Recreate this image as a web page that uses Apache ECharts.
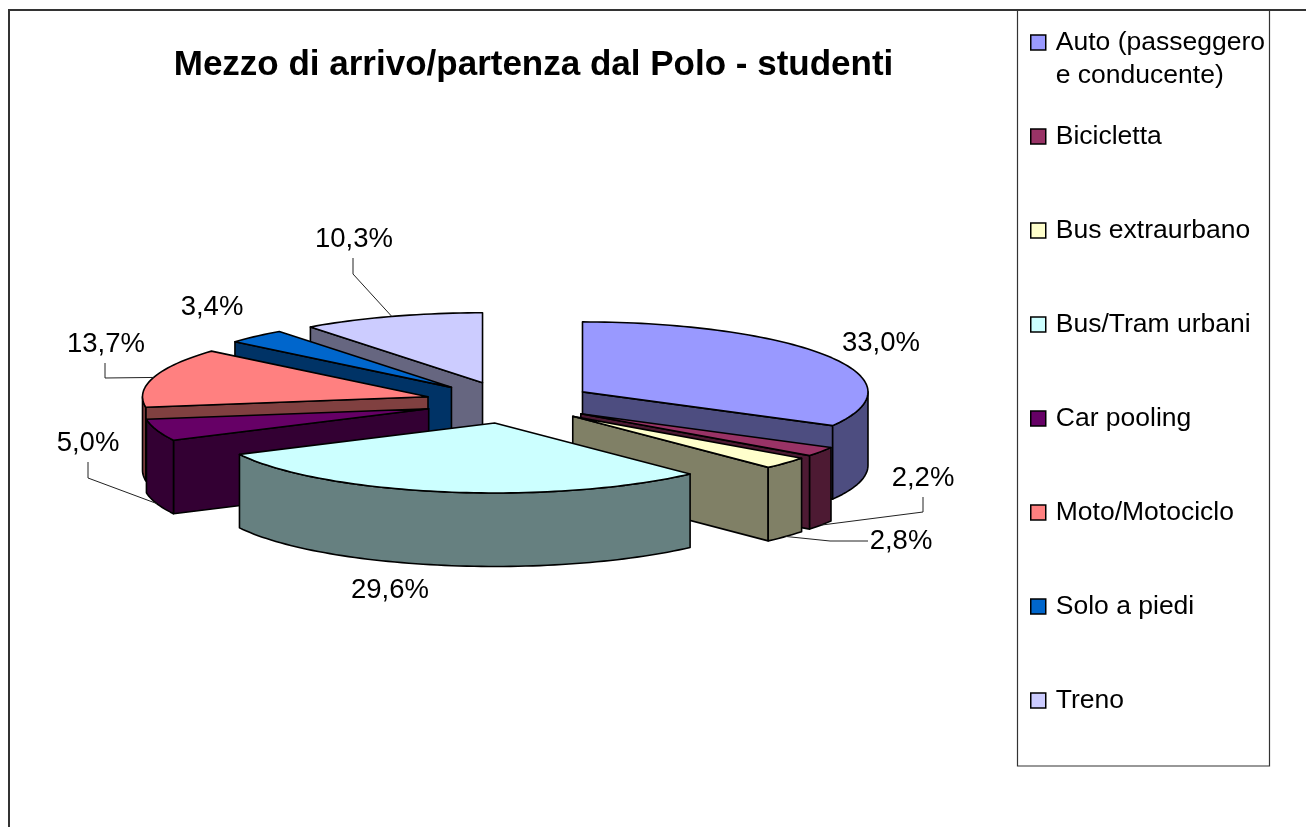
<!DOCTYPE html>
<html>
<head>
<meta charset="utf-8">
<style>html,body{margin:0;padding:0;background:#fff}#c{width:1306px;height:827px}</style>
<script src="https://cdn.jsdelivr.net/npm/echarts@6/dist/echarts.min.js"></script>
</head>
<body>
<div id="c"></div>
<script>
const titleText = 'Mezzo di arrivo/partenza dal Polo - studenti';
const categories = ['Auto (passeggero\ne conducente)', 'Bicicletta', 'Bus extraurbano', 'Bus/Tram urbani', 'Car pooling', 'Moto/Motociclo', 'Solo a piedi', 'Treno'];
const values = [33.0, 2.2, 2.8, 29.6, 5.0, 13.7, 3.4, 10.3];
const colors = ['#9999FF', '#993366', '#FFFFCC', '#CCFFFF', '#660066', '#FF8080', '#0066CC', '#CCCCFF'];

// Pie projection and label layout (not data)
const PIE = { cx: 509.5, cy: 402.5, rx: 285.5, ry: 70, depth: 73.5, explode: 0.297 };
const FONT = 'Liberation Sans, Arial, sans-serif';
const labelCenters = [[881, 343], [923, 478], [901, 541], [390, 590], [88, 443], [106, 344], [212, 307], [354, 239]];
const leaderElbows = [null, [[923, 497], [923, 512]], [[868, 541], [830, 541]], null, [[88, 462], [88, 478]], [[105, 363], [105, 378]], null, [[353, 258], [353, 274]]];

const total = values.reduce((a, b) => a + b, 0);
const slices = [];
let acc = 0;
values.forEach((v, i) => {
  const start = acc / total * 360;
  acc += v;
  const end = acc / total * 360;
  const mid = (start + end) / 2 * Math.PI / 180;
  slices.push({
    i, start, end, mid,
    vx: PIE.cx + PIE.explode * PIE.rx * Math.sin(mid),
    vy: PIE.cy - PIE.explode * PIE.ry * Math.cos(mid)
  });
});

function halfColor(hex) {
  const n = parseInt(hex.slice(1), 16);
  const c = s => Math.round(((n >> s) & 255) / 2);
  return 'rgb(' + c(16) + ',' + c(8) + ',' + c(0) + ')';
}
function rim(s, deg) {
  const a = deg * Math.PI / 180;
  return [s.vx + PIE.rx * Math.sin(a), s.vy - PIE.ry * Math.cos(a)];
}
function arc(s, from, to) {
  const pts = [];
  const n = Math.max(2, Math.ceil((to - from) / 1.5));
  for (let k = 0; k <= n; k++) pts.push(rim(s, from + (to - from) * k / n));
  return pts;
}
const edge = { stroke: '#000', lineWidth: 1.6, lineJoin: 'round' };
function poly(points, fill) {
  return { type: 'polygon', shape: { points }, style: Object.assign({ fill }, edge) };
}
function renderSlice(params, api) {
  const s = slices[drawOrder[params.seriesIndex]];
  const top = colors[s.i], side = halfColor(top);
  const kids = [];
  const v = [s.vx, s.vy];
  const wall = deg => {
    const p = rim(s, deg);
    return poly([v, p, [p[0], p[1] + PIE.depth], [v[0], v[1] + PIE.depth]], side);
  };
  const sinS = Math.sin(s.start * Math.PI / 180), sinE = Math.sin(s.end * Math.PI / 180);
  if (sinS < -1e-6) kids.push(wall(s.start));
  if (sinE > 1e-6) kids.push(wall(s.end));
  const a = Math.max(s.start, 90), b = Math.min(s.end, 270);
  if (b > a) {
    const front = arc(s, a, b);
    const low = front.map(p => [p[0], p[1] + PIE.depth]).reverse();
    kids.push(poly(front.concat(low), side));
  }
  kids.push(poly([v].concat(arc(s, s.start, s.end)), top));

  // percentage label and its leader line
  const val = api.value(0);
  const txt = val.toFixed(1).replace('.', ',') + '%';
  const lc = labelCenters[s.i];
  const el = leaderElbows[s.i];
  if (el) {
    const midDeg = (s.start + s.end) / 2;
    const p = rim(s, midDeg);
    const anchor = (midDeg > 90 && midDeg < 270) ? [p[0], p[1] + PIE.depth] : p;
    kids.push({
      type: 'polyline', z2: 50, shape: { points: el.concat([anchor]) },
      style: { stroke: '#222', lineWidth: 1, fill: null }
    });
  }
  kids.push({
    type: 'text', z2: 60, x: lc[0], y: lc[1],
    style: { text: txt, fill: '#000', font: '27.5px ' + FONT, align: 'center', verticalAlign: 'middle' }
  });
  return { type: 'group', children: kids };
}

// Back slices first: painter's order follows the exploded vertex depth
const drawOrder = slices.slice().sort((p, q) => p.vy - q.vy).map(s => s.i);

const chart = echarts.init(document.getElementById('c'), null, { renderer: 'canvas' });
const legendBase = {
  orient: 'vertical', left: 1030, padding: 0, icon: 'rect', itemWidth: 15, itemHeight: 15,
  selectedMode: false,
  itemStyle: { borderColor: '#000', borderWidth: 1.5 }
};
const legendText = { fontFamily: FONT, fontSize: 26.5, lineHeight: 33, color: '#000', padding: [0, 0, 0, 5] };
chart.setOption({
  animation: false,
  backgroundColor: '#fff',
  title: {
    text: titleText, left: 528.5, top: 60, textAlign: 'center', textVerticalAlign: 'middle',
    textStyle: { fontFamily: FONT, fontWeight: 'bold', fontSize: 35, color: '#000' }
  },
  legend: [
    Object.assign({}, legendBase, {
      top: -7, data: [categories[0]],
      // a blank first line keeps the swatch level with the first text line
      formatter: name => '\n' + name,
      textStyle: legendText
    }),
    Object.assign({}, legendBase, {
      top: 120, itemGap: 61, data: categories.slice(1),
      textStyle: legendText
    })
  ],
  graphic: [
    { type: 'rect', z: -1, shape: { x: 9, y: 10, width: 1400, height: 900 }, style: { fill: 'none', stroke: '#333', lineWidth: 2 } },
    { type: 'rect', z: -1, shape: { x: 1017.5, y: 10, width: 252, height: 756 }, style: { fill: 'none', stroke: '#333', lineWidth: 1.2 } }
  ],
  series: drawOrder.map(i => ({
    type: 'custom', name: categories[i], coordinateSystem: 'none',
    itemStyle: { color: colors[i], borderColor: '#000' },
    renderItem: renderSlice,
    silent: true,
    data: [[values[i]]]
  }))
});
</script>
</body>
</html>
